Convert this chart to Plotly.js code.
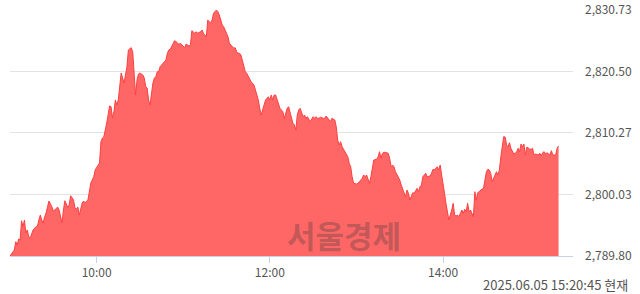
<!DOCTYPE html>
<html>
<head>
<meta charset="utf-8">
<script src="https://cdn.plot.ly/plotly-3.0.1.min.js"></script>
<style>html,body{margin:0;padding:0;background:#fff;}#chart{width:640px;height:294px;}</style>
</head>
<body>
<div id="chart"></div>
<script>
const tradeDate = '2025-06-05';
const times = ['09:00','09:03','09:04','09:05','09:06','09:07','09:08','09:09','09:10','09:11','09:12','09:13','09:14','09:15','09:16','09:18','09:19','09:20','09:21','09:22','09:23','09:24','09:25','09:26','09:27','09:29','09:30','09:31','09:32','09:33','09:34','09:36','09:37','09:38','09:39','09:40','09:41','09:42','09:44','09:45','09:46','09:47','09:48','09:49','09:50','09:51','09:52','09:54','09:55','09:56','09:57','09:58','09:59','10:00','10:02','10:03','10:04','10:05','10:06','10:07','10:09','10:10','10:11','10:12','10:13','10:14','10:15','10:17','10:18','10:19','10:20','10:21','10:22','10:24','10:25','10:26','10:27','10:28','10:29','10:30','10:32','10:33','10:34','10:35','10:36','10:37','10:38','10:39','10:40','10:41','10:42','10:43','10:44','10:46','10:47','10:48','10:49','10:50','10:51','10:52','10:54','10:55','10:56','10:57','10:58','10:59','11:01','11:02','11:03','11:04','11:05','11:06','11:08','11:09','11:10','11:11','11:12','11:13','11:14','11:16','11:17','11:18','11:19','11:20','11:21','11:23','11:24','11:25','11:26','11:27','11:28','11:29','11:30','11:31','11:32','11:33','11:35','11:36','11:37','11:38','11:39','11:40','11:42','11:43','11:44','11:45','11:46','11:47','11:49','11:50','11:51','11:52','11:53','11:54','11:55','11:56','11:57','11:58','11:59','12:00','12:01','12:02','12:03','12:04','12:05','12:06','12:07','12:08','12:09','12:10','12:11','12:12','12:13','12:14','12:15','12:16','12:17','12:18','12:19','12:20','12:21','12:22','12:23','12:24','12:25','12:26','12:27','12:28','12:30','12:31','12:32','12:33','12:34','12:35','12:37','12:38','12:39','12:40','12:41','12:42','12:43','12:45','12:46','12:47','12:48','12:49','12:50','12:52','12:53','12:54','12:55','12:56','12:57','12:58','13:00','13:01','13:02','13:03','13:04','13:05','13:06','13:07','13:08','13:09','13:10','13:11','13:12','13:14','13:15','13:16','13:17','13:18','13:19','13:20','13:22','13:23','13:24','13:25','13:26','13:27','13:29','13:30','13:31','13:32','13:33','13:34','13:35','13:36','13:37','13:38','13:39','13:40','13:41','13:42','13:43','13:44','13:45','13:46','13:47','13:48','13:49','13:51','13:52','13:53','13:54','13:55','13:56','13:57','13:58','13:59','14:00','14:01','14:02','14:03','14:04','14:06','14:07','14:08','14:09','14:10','14:11','14:12','14:13','14:14','14:15','14:16','14:17','14:18','14:19','14:21','14:22','14:23','14:24','14:25','14:26','14:28','14:29','14:30','14:31','14:32','14:33','14:34','14:36','14:37','14:38','14:39','14:40','14:41','14:42','14:43','14:44','14:45','14:46','14:47','14:48','14:49','14:50','14:51','14:52','14:53','14:54','14:55','14:56','14:57','14:58','14:59','15:00','15:01','15:02','15:03','15:04','15:06','15:07','15:08','15:09','15:10','15:11','15:12','15:14','15:15','15:16','15:17','15:18','15:19','15:20'];
const values = [2789.80,2790.80,2792.18,2791.63,2792.63,2792.46,2795.67,2794.68,2795.79,2793.63,2794.13,2793.01,2792.80,2793.63,2794.13,2794.68,2794.79,2795.79,2796.62,2795.79,2795.29,2796.34,2796.95,2798.00,2798.95,2798.00,2797.29,2797.45,2797.79,2797.95,2797.45,2795.29,2797.45,2799.00,2798.45,2797.84,2798.29,2799.83,2799.12,2797.79,2797.62,2797.95,2796.62,2797.79,2798.62,2798.95,2798.67,2799.12,2800.28,2801.95,2802.45,2802.99,2804.11,2804.44,2805.27,2808.82,2809.43,2809.65,2810.76,2811.93,2814.76,2814.64,2812.76,2813.81,2815.76,2814.92,2815.76,2820.25,2819.42,2818.58,2819.92,2821.30,2824.08,2824.46,2823.79,2819.63,2816.59,2819.08,2820.08,2820.25,2819.92,2819.42,2817.97,2817.75,2815.76,2814.92,2816.92,2818.58,2819.42,2819.63,2820.46,2820.46,2821.30,2821.86,2822.13,2822.41,2823.53,2824.08,2824.19,2824.63,2825.62,2825.46,2825.29,2825.02,2825.19,2824.91,2824.46,2825.07,2824.86,2824.74,2824.91,2827.29,2826.85,2827.12,2826.85,2826.95,2827.12,2827.40,2826.85,2826.29,2829.07,2828.78,2828.62,2829.07,2830.18,2830.73,2830.45,2829.90,2829.07,2828.23,2827.95,2827.52,2826.85,2826.29,2825.19,2824.91,2824.36,2824.46,2823.79,2823.53,2823.53,2823.24,2821.30,2820.46,2820.20,2819.75,2819.08,2818.80,2818.25,2817.42,2816.59,2815.76,2814.37,2813.26,2814.09,2814.92,2815.76,2816.04,2816.30,2815.76,2816.59,2815.76,2816.59,2816.59,2815.76,2815.21,2814.37,2814.09,2813.81,2812.71,2813.54,2814.37,2814.64,2813.81,2812.98,2811.88,2811.60,2810.76,2813.26,2814.09,2814.37,2813.54,2812.98,2813.26,2812.71,2812.98,2812.55,2812.15,2812.98,2812.71,2812.98,2812.71,2812.71,2812.88,2812.71,2812.71,2813.09,2812.71,2812.31,2812.15,2812.71,2812.43,2811.31,2809.10,2808.27,2808.82,2807.99,2807.15,2806.60,2806.32,2805.22,2804.66,2802.99,2801.90,2801.78,2801.90,2802.16,2802.45,2802.73,2803.28,2802.99,2803.28,2802.73,2801.90,2802.99,2804.11,2805.77,2805.89,2806.32,2807.15,2806.06,2806.89,2807.05,2807.05,2806.89,2806.06,2804.66,2804.94,2804.66,2803.83,2802.99,2802.45,2801.61,2801.06,2800.50,2799.67,2800.78,2800.23,2799.12,2799.95,2800.33,2800.23,2800.67,2801.06,2800.50,2801.33,2801.61,2802.99,2803.28,2803.56,2802.99,2803.11,2803.56,2804.23,2804.11,2804.39,2804.66,2804.11,2804.94,2803.28,2801.33,2800.23,2798.57,2796.90,2795.79,2797.45,2798.57,2796.62,2796.46,2796.62,2796.34,2796.90,2797.45,2796.90,2797.57,2797.17,2798.57,2797.17,2797.45,2796.34,2800.50,2799.12,2800.33,2800.50,2800.78,2801.06,2802.16,2803.83,2804.23,2804.11,2803.56,2802.16,2803.28,2803.83,2803.28,2804.11,2806.32,2807.99,2809.65,2809.60,2808.27,2807.99,2808.65,2807.72,2807.15,2806.77,2806.89,2807.15,2807.72,2807.15,2808.43,2807.99,2808.43,2806.60,2807.89,2807.82,2807.55,2807.55,2807.72,2806.60,2806.77,2806.60,2806.89,2806.44,2806.99,2807.15,2806.77,2806.99,2806.60,2807.32,2806.60,2806.60,2806.60,2807.72,2808.10];
const yTickVals = [2789.80, 2800.03, 2810.27, 2820.50, 2830.73];
const yTickText = ['2,789.80', '2,800.03', '2,810.27', '2,820.50', '2,830.73'];
const xTickTimes = ['10:00', '12:00', '14:00'];
const stampText = '2025.06.05 15:20:45 현재';
const watermark = '서울경제';

const xs = times.map(t => tradeDate + ' ' + t);
const font = '"Noto Sans CJK KR", "Noto Sans", sans-serif';

const trace = {
  type: 'scatter', mode: 'lines', x: xs, y: values,
  fill: 'tozeroy', fillcolor: 'rgb(255,102,102)',
  line: {color: 'rgb(255,64,64)', width: 1},
  hoverinfo: 'skip'
};

const layout = {
  width: 640, height: 294,
  margin: {l: 10, r: 67, t: 10, b: 38},
  paper_bgcolor: '#fff', plot_bgcolor: '#fff',
  showlegend: false,
  font: {family: font, size: 12, color: '#555'},
  xaxis: {
    type: 'date',
    range: [tradeDate + ' 09:00', tradeDate + ' 15:30'],
    tickvals: xTickTimes.map(t => tradeDate + ' ' + t),
    ticktext: xTickTimes,
    showgrid: false, zeroline: false,
    showline: true, linecolor: '#c6d2e6', linewidth: 1,
    ticks: 'outside', ticklen: 6, tickcolor: '#c6d2e6', tickwidth: 1,
    tickfont: {family: font, size: 12, color: '#555'}
  },
  yaxis: {
    side: 'right',
    range: [yTickVals[0], yTickVals[yTickVals.length - 1]],
    tickvals: yTickVals, ticktext: yTickText,
    showgrid: true, gridcolor: '#e3e3e3', gridwidth: 1,
    zeroline: false, showline: false, ticks: '',
    ticklabelstandoff: 11,
    tickfont: {family: font, size: 12, color: '#555'}
  },
  annotations: [
    {text: watermark, xref: 'paper', yref: 'paper', x: 0.594, y: 0.087,
     xanchor: 'center', yanchor: 'middle', showarrow: false,
     font: {family: font, size: 31, color: 'rgba(60,60,60,0.32)', weight: 'bold'}},
    {text: stampText, xref: 'paper', yref: 'paper', x: 1.0995, y: -0.1165,
     xanchor: 'right', yanchor: 'middle', showarrow: false, borderpad: 0,
     font: {family: font, size: 13, color: '#555'}}
  ]
};

Plotly.newPlot('chart', [trace], layout, {displayModeBar: false, staticPlot: true});
</script>
</body>
</html>
